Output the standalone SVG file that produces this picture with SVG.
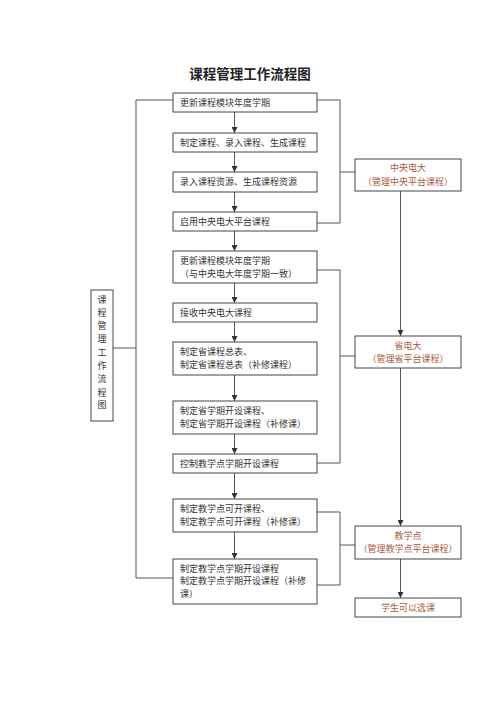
<svg xmlns="http://www.w3.org/2000/svg" width="500" height="708" viewBox="0 0 500 708">
<style>
.b{fill:#fff;stroke:#444;stroke-width:1}
.t{font-family:"Liberation Serif","Noto Sans CJK SC",serif;font-size:9px;fill:#333}
.r{font-family:"Liberation Serif","Noto Sans CJK SC",serif;font-size:9px;fill:#a85a3c;text-anchor:middle}
.l{fill:none;stroke:#555;stroke-width:1}
.title{font-family:"Liberation Serif","Noto Sans CJK SC",serif;font-size:13.5px;font-weight:bold;fill:#222;text-anchor:middle}
</style>
<defs>
<marker id="a" viewBox="0 0 8 8" refX="8" refY="4" markerWidth="6" markerHeight="6" orient="auto" markerUnits="userSpaceOnUse">
<path d="M0,0 L8,4 L0,8 Z" fill="#333"/>
</marker>
</defs>
<rect width="500" height="708" fill="#fff"/>
<text class="title" x="250" y="79">课程管理工作流程图</text>
<g id="connectors">
<line class="l" x1="234.5" y1="112" x2="234.5" y2="133" marker-end="url(#a)"/>
<line class="l" x1="234.5" y1="152" x2="234.5" y2="172" marker-end="url(#a)"/>
<line class="l" x1="234.5" y1="192" x2="234.5" y2="212" marker-end="url(#a)"/>
<line class="l" x1="234.5" y1="231" x2="234.5" y2="251" marker-end="url(#a)"/>
<line class="l" x1="234.5" y1="283" x2="234.5" y2="303" marker-end="url(#a)"/>
<line class="l" x1="234.5" y1="322" x2="234.5" y2="342" marker-end="url(#a)"/>
<line class="l" x1="234.5" y1="375" x2="234.5" y2="401" marker-end="url(#a)"/>
<line class="l" x1="234.5" y1="434" x2="234.5" y2="454" marker-end="url(#a)"/>
<line class="l" x1="234.5" y1="473" x2="234.5" y2="499" marker-end="url(#a)"/>
<line class="l" x1="234.5" y1="532" x2="234.5" y2="559" marker-end="url(#a)"/>
<polyline class="l" points="173,100 136,100 136,578 173,578"/>
<line class="l" x1="113" y1="348" x2="136" y2="348"/>
<polyline class="l" points="317,100 340,100 340,223 317,223"/>
<line class="l" x1="340" y1="172" x2="355" y2="172"/>
<polyline class="l" points="317,270 340,270 340,463 317,463"/>
<line class="l" x1="340" y1="356" x2="355" y2="356"/>
<polyline class="l" points="317,512 340,512 340,585 317,585"/>
<line class="l" x1="340" y1="545" x2="355" y2="545"/>
<line class="l" x1="400.5" y1="191" x2="400.5" y2="336" marker-end="url(#a)"/>
<line class="l" x1="400.5" y1="368" x2="400.5" y2="526" marker-end="url(#a)"/>
<line class="l" x1="400.5" y1="559" x2="400.5" y2="598" marker-end="url(#a)"/>
</g>
<g id="n1"><rect class="b" x="173" y="93" width="144" height="19"/><text class="t" x="180" y="106">更新课程模块年度学期</text></g>
<g id="n2"><rect class="b" x="173" y="133" width="144" height="19"/><text class="t" x="180" y="146">制定课程、录入课程、生成课程</text></g>
<g id="n3"><rect class="b" x="173" y="172" width="144" height="20"/><text class="t" x="180" y="185">录入课程资源、生成课程资源</text></g>
<g id="n4"><rect class="b" x="173" y="212" width="144" height="19"/><text class="t" x="180" y="225">启用中央电大平台课程</text></g>
<g id="n5"><rect class="b" x="173" y="251" width="144" height="32"/><text class="t" x="180" y="264">更新课程模块年度学期</text><text class="t" x="180" y="277">（与中央电大年度学期一致）</text></g>
<g id="n6"><rect class="b" x="173" y="303" width="144" height="19"/><text class="t" x="180" y="316">接收中央电大课程</text></g>
<g id="n7"><rect class="b" x="173" y="342" width="144" height="33"/><text class="t" x="180" y="355">制定省课程总表、</text><text class="t" x="180" y="368">制定省课程总表（补修课程）</text></g>
<g id="n8"><rect class="b" x="173" y="401" width="144" height="33"/><text class="t" x="180" y="414">制定省学期开设课程、</text><text class="t" x="180" y="427">制定省学期开设课程（补修课）</text></g>
<g id="n9"><rect class="b" x="173" y="454" width="144" height="19"/><text class="t" x="180" y="467">控制教学点学期开设课程</text></g>
<g id="n10"><rect class="b" x="173" y="499" width="144" height="33"/><text class="t" x="180" y="512">制定教学点可开课程、</text><text class="t" x="180" y="525">制定教学点可开课程（补修课）</text></g>
<g id="n11"><rect class="b" x="173" y="559" width="144" height="45"/><text class="t" x="180" y="572">制定教学点学期开设课程</text><text class="t" x="180" y="584">制定教学点学期开设课程（补修</text><text class="t" x="180" y="597">课）</text></g>
<g id="side"><rect class="b" x="91" y="290" width="22" height="131"/>
<text class="t" x="102" y="303" text-anchor="middle">课</text>
<text class="t" x="102" y="316" text-anchor="middle">程</text>
<text class="t" x="102" y="329" text-anchor="middle">管</text>
<text class="t" x="102" y="342" text-anchor="middle">理</text>
<text class="t" x="102" y="356" text-anchor="middle">工</text>
<text class="t" x="102" y="369" text-anchor="middle">作</text>
<text class="t" x="102" y="382" text-anchor="middle">流</text>
<text class="t" x="102" y="396" text-anchor="middle">程</text>
<text class="t" x="102" y="408" text-anchor="middle">图</text></g>
<g id="zy"><rect class="b" x="355" y="159" width="106" height="32"/><text class="r" x="408" y="171">中央电大</text><text class="r" x="408" y="185">（管理中央平台课程）</text></g>
<g id="sd"><rect class="b" x="355" y="336" width="106" height="32"/><text class="r" x="408" y="349">省电大</text><text class="r" x="408" y="362">（管理省平台课程）</text></g>
<g id="jxd"><rect class="b" x="355" y="526" width="106" height="33"/><text class="r" x="408" y="539">教学点</text><text class="r" x="408" y="552">（管理教学点平台课程）</text></g>
<g id="xs"><rect class="b" x="355" y="598" width="106" height="19"/><text class="r" x="408" y="611">学生可以选课</text></g>
</svg>
